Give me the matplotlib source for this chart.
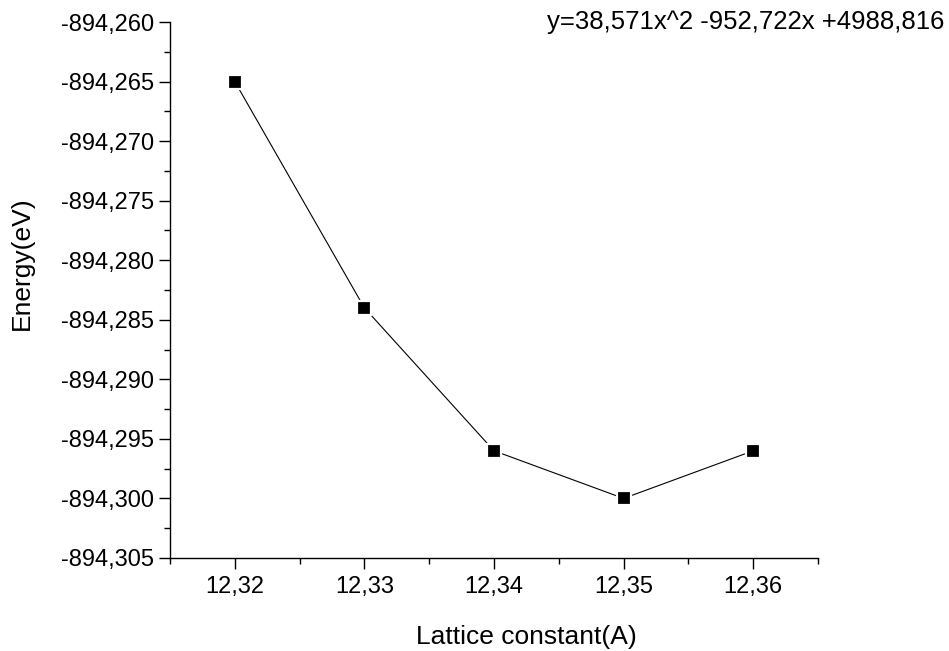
import matplotlib.pyplot as plt
from matplotlib.ticker import MultipleLocator, FuncFormatter

plt.rcParams['font.family'] = ['Liberation Sans', 'DejaVu Sans']

# lattice constant scan
lattice = [12.32, 12.33, 12.34, 12.35, 12.36]
energy = [-894.265, -894.284, -894.296, -894.300, -894.296]
fit_label = "y=38,571x^2 -952,722x +4988,816"


def comma_fmt(decimals):
    def f(v, pos):
        return f"{v:.{decimals}f}".replace(".", ",")
    return FuncFormatter(f)


fig = plt.figure(figsize=(9.49, 6.51), dpi=100)
ax = fig.add_axes([0.1791, 0.1429, 0.862 - 0.1791, 0.9662 - 0.1429])

ax.plot(lattice, energy, color="black", linewidth=0.8, zorder=2)
ax.plot(lattice, energy, linestyle="none", marker="s", markersize=10,
        markerfacecolor="black", markeredgecolor="white", markeredgewidth=1.6, zorder=3)

ax.set_xlim(12.315, 12.365)
ax.set_ylim(-894.305, -894.260)

ax.xaxis.set_major_locator(MultipleLocator(0.01))
ax.xaxis.set_minor_locator(MultipleLocator(0.005))
ax.yaxis.set_major_locator(MultipleLocator(0.005))
ax.yaxis.set_minor_locator(MultipleLocator(0.0025))
ax.xaxis.set_major_formatter(comma_fmt(2))
ax.yaxis.set_major_formatter(comma_fmt(3))

for side in ["top", "right"]:
    ax.spines[side].set_visible(False)
for side in ["left", "bottom"]:
    ax.spines[side].set_linewidth(1.0)

ax.tick_params(which="major", direction="out", length=8, width=1.0, labelsize=17)
ax.tick_params(axis="y", which="major", pad=3.5)
ax.tick_params(axis="x", which="major", pad=5)
ax.tick_params(which="minor", direction="out", length=4.5, width=1.0)

ax.set_xlabel("Lattice constant(A)", fontsize=19)
ax.set_ylabel("Energy(eV)", fontsize=19)
# axis titles sit a little off-centre
ax.xaxis.set_label_coords(0.55, -0.148)
ax.yaxis.set_label_coords(-0.229, 0.55)
ax.xaxis.label.set_va("center")
ax.yaxis.label.set_va("center")

fig.text(0.995, 0.966, fit_label, fontsize=18.5, ha="right", va="center")

fig.savefig("out.png", dpi=100)
